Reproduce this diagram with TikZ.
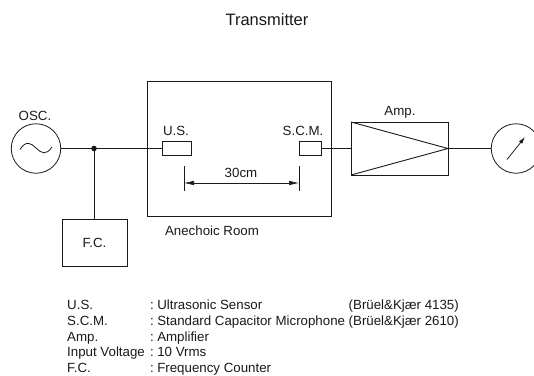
\documentclass[tikz,border=0pt]{standalone}
\usepackage{fontspec}
\setmainfont{Liberation Sans}
\usetikzlibrary{arrows.meta}
\definecolor{ink}{gray}{0.1}
\tikzset{
  box/.style={draw=ink,line width=0.9pt,inner sep=0pt,outer sep=0pt,anchor=north west,font=\fontsize{13.3}{15}\selectfont,text=ink},
  wire/.style={draw=ink,line width=0.9pt},
  thin wire/.style={draw=ink,line width=0.55pt},
  lbl/.style={inner sep=0pt,text=ink,font=\fontsize{13.3}{15}\selectfont},
  leg/.style={inner sep=0pt,anchor=base west,text=ink,font=\fontsize{13.3}{15}\selectfont},
  dial/.style={draw=ink,line width=0.8pt,circle,minimum size=49.5pt,inner sep=0pt,outer sep=0pt},
  tip/.style={-{Latex[length=7pt,width=4pt]}}
}
\newcommand{\legsep}{:\hspace{3.4pt}}
\begin{document}
\begin{tikzpicture}[x=1pt,y=-1pt]
\useasboundingbox (0,0) rectangle (534,375);
\clip (0,0) rectangle (534,375);
\node[lbl,font=\fontsize{16.5}{18}\selectfont] (title) at (267,20) {Transmitter};
% sources and boxes
\node[dial] (osc) at (36,148.5) {};
\node[lbl] (osclbl) at (35,115.5) {OSC.};
\draw[ink,line width=0.8pt] (20,149.5) .. controls (26,140) and (31,143) .. (36,148) .. controls (41,153) and (46,156) .. (52,147);
\node[box,minimum width=184pt,minimum height=135pt] (room) at (147,81) {};
\node[lbl] (roomlbl) at (212,231) {Anechoic Room};
\node[box,minimum width=29pt,minimum height=14pt] (us) at (162,141.5) {};
\node[lbl] (uslbl) at (176,130.5) {U.S.};
\node[box,minimum width=22pt,minimum height=14pt] (scm) at (299,141.5) {};
\node[lbl] (scmlbl) at (303,130.5) {S.C.M.};
\node[box,minimum width=65pt,minimum height=47pt] (fc) at (62,219) {F.C.};
\node[box,line width=1pt,minimum width=97pt,minimum height=53pt] (amp) at (351,122) {};
\node[lbl] (amplbl) at (400,112) {Amp.};
\node[dial] (meter) at (516,148.5) {};
% junction
\coordinate (j) at (94,148.5);
\fill[ink] (j) circle (2.8pt);
% wiring
\draw[wire] (osc.east) -- (j) -- (us.west);
\draw[wire] (j) -- (j |- fc.north);
\draw[wire] (scm.east) -- (amp.west);
\draw[wire] (amp.east) -- (meter.west);
% amplifier triangle
\draw[wire] (amp.north west) -- (amp.east) -- (amp.south west);
% meter needle
\coordinate (na) at (507,159.5);
\coordinate (nb) at (525,137);
\draw[thin wire,line width=0.8pt,tip] (na) -- (nb);
% dimension
\coordinate (ta) at (184,166);
\coordinate (tb) at (184,191);
\coordinate (tc) at (299,166);
\coordinate (td) at (299,191);
\coordinate (da) at (184,183);
\coordinate (db) at (299,183);
\draw[thin wire] (ta) -- (tb);
\draw[thin wire] (tc) -- (td);
\draw[thin wire,{Latex[length=10pt,width=4.5pt]}-{Latex[length=10pt,width=4.5pt]}] (da) -- (db);
\node[lbl] (dim) at (241,173) {30cm};
% legend
\node[leg] (l1a) at (67,309.5) {U.S.};
\node[leg] (l1b) at (150,309.5) {\legsep Ultrasonic Sensor};
\node[leg] (l1c) at (348.5,309.5) {(Brüel\&Kjær 4135)};
\node[leg] (l2a) at (67,325) {S.C.M.};
\node[leg] (l2b) at (150,325) {\legsep Standard Capacitor Microphone};
\node[leg] (l2c) at (348.5,325) {(Brüel\&Kjær 2610)};
\node[leg] (l3a) at (67,341) {Amp.};
\node[leg] (l3b) at (150,341) {\legsep Amplifier};
\node[leg] (l4a) at (67,356.5) {Input Voltage};
\node[leg] (l4b) at (150,356.5) {\legsep 10 Vrms};
\node[leg] (l5a) at (67,372) {F.C.};
\node[leg] (l5b) at (150,372) {\legsep Frequency Counter};
\end{tikzpicture}
\end{document}
